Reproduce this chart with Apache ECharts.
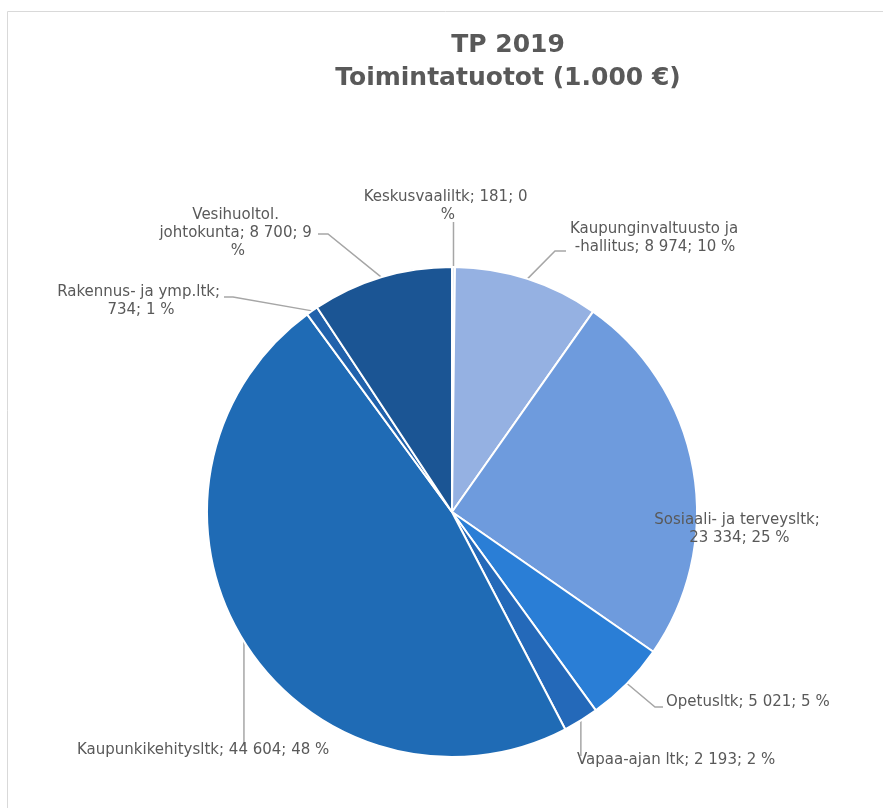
<!DOCTYPE html>
<html>
<head>
<meta charset="utf-8">
<script src="https://cdn.jsdelivr.net/npm/echarts@6/dist/echarts.min.js"></script>
<style>
    html, body { margin: 0; padding: 0; background: #fff; }
    #main { width: 883px; height: 808px; }
</style>
</head>
<body>
<div id="main"></div>
<script>
// 数据
const categories = [
    "Keskusvaaliltk",
    "Kaupunginvaltuusto ja -hallitus",
    "Sosiaali- ja terveysltk",
    "Opetusltk",
    "Vapaa-ajan ltk",
    "Kaupunkikehitysltk",
    "Rakennus- ja ymp.ltk",
    "Vesihuoltol. johtokunta",
];
const values = [181, 8974, 23334, 5021, 2193, 44604, 734, 8700];
const colors = ["#dfe7f5", "#95b1e2", "#6e9bdd", "#2a7ed6", "#2469b9", "#1f6bb5", "#2162ac", "#1b5594"];

// 标签位置 [x, y, 对齐, 换行宽度]
const labelPos = [
    [448, 206, "center", 170],
    [570, 238, "left", 170],
    [737, 529, "center", 170],
    [666, 702, "left", null],
    [577, 760, "left", null],
    [77, 750, "left", null],
    [141, 301, "center", 170],
    [238, 233, "center", 160],
];
// 引导线折点（null 表示与起点同 x，竖直线）
const leaderPts = [
    [[null, 222]],
    [[555, 251], [566, 251]],
    [],
    [[655, 707], [663, 707]],
    [[null, 756]],
    [[null, 746]],
    [[233, 297], [224, 297]],
    [[328, 234], [318, 234]],
];

const fmt = (v) => String(v).replace(/\B(?=(\d{3})+(?!\d))/g, " ");

const chart = echarts.init(document.getElementById("main"));
chart.setOption({
    animation: false,
    title: {
        text: "TP 2019\nToimintatuotot (1.000 €)",
        left: 508,
        top: 29,
        padding: 0,
        textAlign: "center",
        textStyle: {
            fontFamily: "DejaVu Sans",
            fontWeight: "bold",
            fontSize: 25,
            lineHeight: 33,
            color: "#595959",
        },
    },
    graphic: [
        {
            type: "rect",
            shape: { x: 7.5, y: 11.5, width: 900, height: 820 },
            style: { fill: "none", stroke: "#d9d9d9", lineWidth: 1 },
            silent: true,
        },
    ],
    series: [
        {
            type: "pie",
            center: [452, 512],
            radius: 245,
            startAngle: 90,
            clockwise: true,
            percentPrecision: 0,
            itemStyle: { borderColor: "#fff", borderWidth: 2 },
            label: {
                show: true,
                position: "outside",
                fontFamily: "DejaVu Sans",
                fontSize: 15,
                lineHeight: 18,
                color: "#595959",
                formatter: (p) => `${p.name}; ${fmt(p.value)}; ${p.percent} %`,
            },
            labelLine: {
                show: true,
                length: 15,
                length2: 15,
                lineStyle: { color: "#a6a6a6", width: 1.5 },
            },
            labelLayout: (params) => {
                const i = params.dataIndex;
                const p = labelPos[i];
                const out = { x: p[0], y: p[1], align: p[2], verticalAlign: "middle" };
                const pts = params.labelLinePoints;
                if (pts && leaderPts[i].length) {
                    const p0 = pts[0];
                    out.labelLinePoints = [p0].concat(
                        leaderPts[i].map((q) => [q[0] == null ? p0[0] : q[0], q[1]])
                    );
                }
                return out;
            },
            data: categories.map((name, i) => ({
                name: name,
                value: values[i],
                itemStyle: { color: colors[i] },
                label: labelPos[i][3]
                    ? { width: labelPos[i][3], overflow: "break", align: labelPos[i][2] }
                    : { overflow: "none", align: labelPos[i][2] },
                labelLine: { show: i !== 2 },
            })),
        },
    ],
});
</script>
</body>
</html>
